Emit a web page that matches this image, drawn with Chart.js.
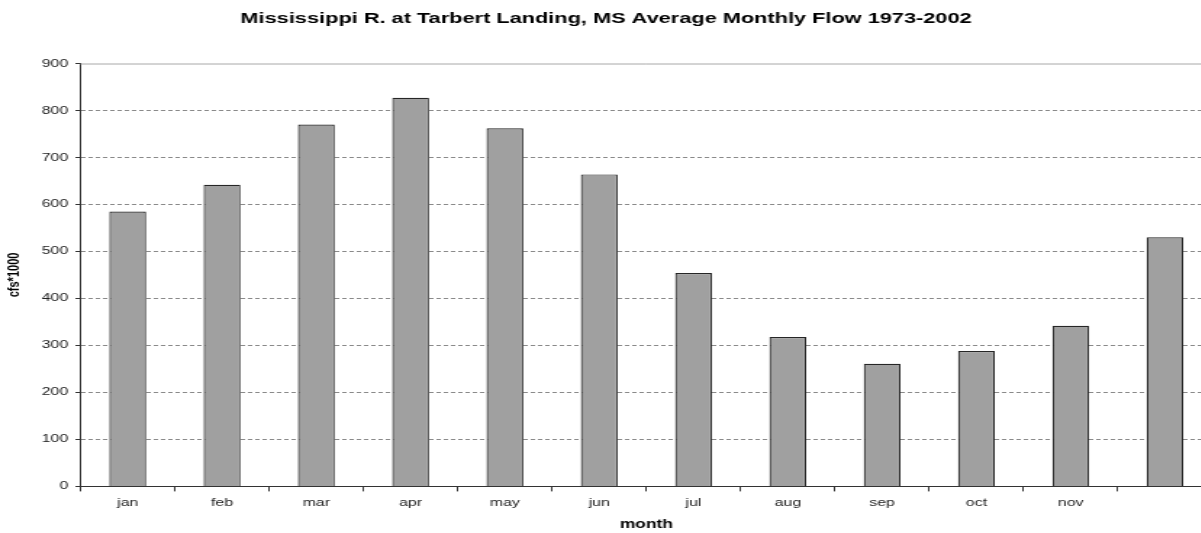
<!DOCTYPE html>
<html>
<head>
<meta charset="utf-8">
<script src="https://cdn.jsdelivr.net/npm/chart.js@4"></script>
<style>
html, body { margin: 0; padding: 0; background: #fff; overflow: hidden; }
/* the reference is stretched sideways, so the canvas is drawn narrow and widened by css */
#wrap { width: 836px; height: 533px; transform: scaleX(1.45); transform-origin: 0 0; }
</style>
</head>
<body>
<div id="wrap"><canvas id="flowChart" width="836" height="533"></canvas></div>
<script>
const months = ['jan', 'feb', 'mar', 'apr', 'may', 'jun', 'jul', 'aug', 'sep', 'oct', 'nov', 'dec'];
// the dec label is not shown in the picture
const tickLabels = ['jan', 'feb', 'mar', 'apr', 'may', 'jun', 'jul', 'aug', 'sep', 'oct', 'nov', ''];
const avgFlow = [585, 642, 770, 827, 762, 664, 454, 318, 261, 288, 342, 530];
const yTicks = [0, 100, 200, 300, 400, 500, 600, 700, 800, 900];

Chart.defaults.font.family = "'Liberation Sans', Arial, sans-serif";

// solid light line along the top of the plot area
const plotTop = {
    id: 'plotTop',
    beforeDatasetsDraw(chart) {
        const {ctx, chartArea} = chart;
        ctx.save();
        ctx.strokeStyle = '#a8a8a8';
        ctx.lineWidth = 1;
        ctx.beginPath();
        ctx.moveTo(chartArea.left, chartArea.top + 0.5);
        ctx.lineTo(chartArea.right, chartArea.top + 0.5);
        ctx.stroke();
        ctx.restore();
    }
};

const ctx = document.getElementById('flowChart').getContext('2d');

new Chart(ctx, {
    type: 'bar',
    data: {
        labels: months,
        datasets: [{
            label: 'cfs*1000',
            data: avgFlow,
            backgroundColor: '#a0a0a0',
            borderColor: '#262626',
            borderWidth: 1.2,
            barPercentage: 0.39,
            categoryPercentage: 1
        }]
    },
    options: {
        responsive: false,
        animation: false,
        layout: {padding: 0},
        plugins: {
            legend: {display: false},
            tooltip: {enabled: false},
            title: {
                display: true,
                text: 'Mississippi R. at Tarbert Landing, MS Average Monthly Flow 1973-2002',
                color: '#000',
                font: {size: 15, weight: 'bold'},
                padding: {top: 10, bottom: 35.5}
            }
        },
        scales: {
            x: {
                grid: {drawOnChartArea: false, tickLength: 5, color: '#333'},
                border: {color: '#333', width: 1},
                ticks: {
                    color: '#222',
                    font: {size: 11},
                    padding: 5,
                    maxRotation: 0,
                    autoSkip: false,
                    callback: (v, i) => tickLabels[i]
                },
                title: {
                    display: true,
                    text: 'month',
                    color: '#000',
                    font: {size: 12, weight: 'bold'},
                    padding: {top: 3, bottom: 1}
                }
            },
            y: {
                min: yTicks[0],
                max: yTicks[yTicks.length - 1],
                afterBuildTicks: axis => { axis.ticks = yTicks.map(v => ({value: v})); },
                grid: {
                    color: c => (c.tick && c.tick.value === 900) ? 'rgba(0,0,0,0)' : '#8a8a8a',
                    tickColor: '#333',
                    tickLength: 3.5
                },
                border: {color: '#333', width: 1, dash: [3, 2]},
                ticks: {color: '#222', font: {size: 11}, padding: 5},
                title: {
                    display: true,
                    text: 'cfs*1000',
                    color: '#000',
                    font: {size: 11, weight: 'bold'},
                    padding: {top: 3, bottom: 7.5}
                }
            }
        }
    },
    plugins: [plotTop]
});
</script>
</body>
</html>
